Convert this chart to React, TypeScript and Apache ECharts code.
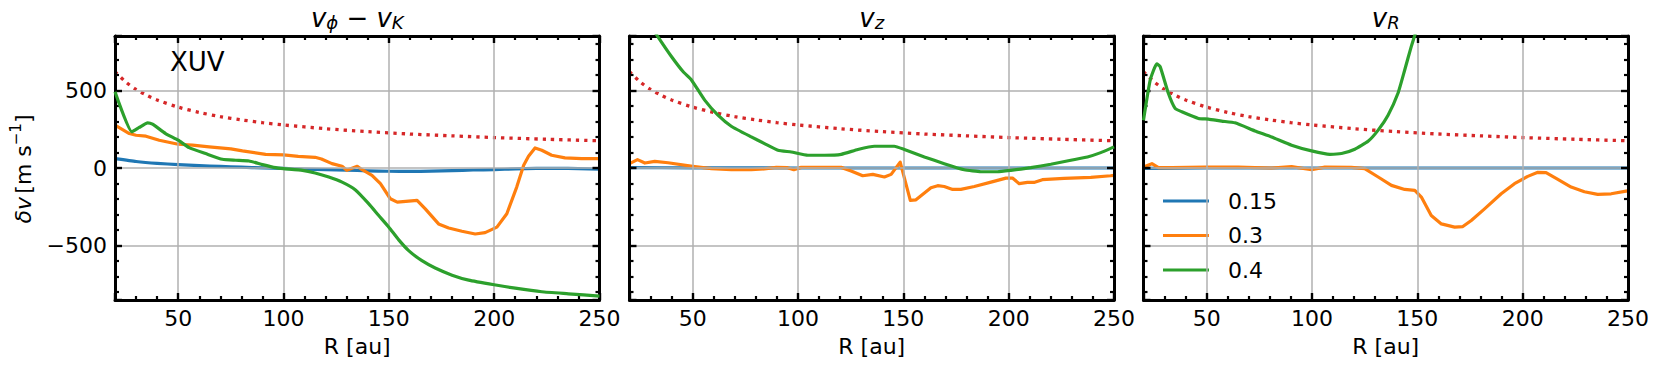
import React, { useEffect, useRef } from "react";
import * as echarts from "echarts";

// ---------- data ----------
const X_MIN = 20;
const X_MAX = 250;
const Y_MIN = -850;
const Y_MAX = 850;

const LEGEND_LABELS = ["0.15", "0.3", "0.4"];
const X_LABEL = "R [au]";

// red dotted reference curve (same in all panels)
const R_KEP = [20, 25, 30, 35, 40, 50, 60, 70, 80, 90, 100, 120, 140, 160, 180, 200, 225, 250];
const V_KEP = [620, 555, 506, 469, 438, 392, 358, 331, 310, 292, 277, 253, 234, 219, 207, 196, 185, 175];

// panel 1: v_phi - v_K
const R_PHI_015 = [20, 30, 40, 50, 60, 70, 80, 90, 100, 110, 120, 130, 140, 150, 160, 170, 180, 190, 200, 210, 220, 230, 240, 250];
const V_PHI_015 = [60, 42, 30, 22, 15, 10, 5, 1, -3, -7, -10, -14, -18, -21, -22, -20, -17, -13, -10, -6, -3, -2, -4, -8];
const R_PHI_03 = [20, 26.8, 30, 34.7, 41, 50, 56.8, 64.7, 75, 80.5, 91.5, 100, 107, 115, 118, 123, 127.8, 130, 135, 137.3, 142, 146, 150.7, 154, 159.4, 163.4, 167.3, 173.6, 178.4, 184.7, 191, 195.7, 201.3, 206, 210.7, 214, 216.3, 219.4, 222.6, 227.3, 233.6, 241.5, 250];
const V_PHI_03 = [276, 222, 211, 205, 179, 153, 147, 136, 123, 110, 88, 84, 75, 69, 58, 28, 11, -15, 11, -11, -47, -101, -198, -220, -213, -209, -263, -360, -386, -407, -425, -416, -381, -295, -123, 17, 75, 129, 114, 82, 65, 60, 60];
const R_PHI_04 = [20, 28, 31.5, 35.5, 37.8, 44, 50, 55.2, 63, 71, 77.3, 83.6, 90, 96.3, 100, 109, 115, 121.5, 127.8, 134, 140.5, 145.2, 150, 154.7, 159.4, 165.7, 172, 180, 187.9, 200, 210, 222.6, 235.2, 250];
const V_PHI_04 = [491, 233, 261, 291, 282, 222, 179, 131, 93, 56, 50, 45, 22, 2, -4, -15, -32, -58, -91, -140, -231, -306, -381, -463, -532, -597, -644, -690, -722, -752, -774, -797, -810, -825];

// panel 2: v_z
const R_Z_015 = [20, 50, 100, 150, 200, 250];
const V_Z_015 = [2, 1, 0, 0, 0, 0];
const R_Z_03 = [20, 23.8, 27.3, 32, 38.3, 50, 58.9, 68.3, 77.8, 84, 89.7, 95, 98, 101.5, 112.6, 120.5, 125.2, 130.7, 135.5, 141, 144.2, 148.5, 153.3, 156, 163.1, 166.3, 169.4, 173.4, 177.3, 183.7, 191.6, 198.7, 201.8, 205, 208.9, 212, 216, 226.3, 239, 248.4, 250];
const V_Z_03 = [28, 54, 32, 43, 34, 11, -4, -11, -11, -6, 4, 2, -11, 4, 4, 4, -19, -50, -41, -58, -41, 38, -209, -205, -127, -114, -119, -138, -138, -119, -91, -65, -65, -101, -93, -93, -75, -67, -60, -50, -47];
const R_Z_04 = [20, 25, 30, 33.6, 39.9, 45.4, 49.4, 55.7, 62, 68.3, 77.8, 84.1, 90.5, 96.8, 104.7, 112.6, 120.5, 128.4, 136.3, 145.7, 150.5, 160, 169.4, 178.9, 186.8, 194.7, 201, 210.5, 220, 229.5, 237.4, 243.7, 249.2, 250];
const V_Z_04 = [1100, 1020, 920, 843, 718, 621, 567, 437, 340, 269, 200, 157, 114, 103, 82, 82, 88, 119, 140, 140, 119, 71, 28, -11, -24, -24, -15, 2, 24, 50, 71, 99, 131, 136];

// panel 3: v_R
const R_R_015 = [20, 50, 100, 150, 200, 250];
const V_R_015 = [-2, 0, 0, 0, 0, 0];
const R_R_03 = [20, 24, 27.1, 33.4, 49.2, 65, 80.8, 90.3, 99.8, 106.1, 118.7, 125, 131.4, 137.7, 144, 148.8, 151.9, 156.6, 161.4, 167.7, 171.6, 175.6, 181.9, 189.8, 196.1, 202.4, 207.2, 211.1, 216.7, 223, 229.3, 235.6, 242, 249.1, 250];
const V_R_03 = [6, 28, 2, 2, 6, 6, 0, 9, -11, 6, 4, -4, -58, -112, -138, -144, -187, -306, -360, -381, -377, -338, -263, -166, -101, -54, -28, -30, -73, -123, -153, -170, -166, -149, -147];
const R_R_04 = [20, 23.2, 26.3, 27.9, 31.8, 35, 38.2, 46.1, 50.8, 57.1, 63.4, 72.9, 80.8, 90.3, 99.8, 108.5, 114, 120.3, 126.6, 131.4, 136.1, 140.8, 144, 147.1, 148.7, 152];
const V_R_04 = [308, 567, 670, 653, 481, 384, 362, 319, 315, 302, 291, 239, 200, 147, 110, 88, 93, 121, 172, 244, 340, 481, 631, 782, 851, 1000];

// ---------- styling ----------
const COLORS = ["#1f77b4", "#ff7f0e", "#2ca02c"];
const SMOOTH = [0.15, 0, 0.15];
const RED = "#d62728";
const FONT = "DejaVu Sans";
const GRID_LEFTS = [115, 629.5, 1143.5];
const GRID_W = 484.5;
const GRID_TOP = 36;
const GRID_H = 264;

const zip = (r: number[], v: number[]) => r.map((x, i) => [x, v[i]]);

const PANELS = [
  [zip(R_PHI_015, V_PHI_015), zip(R_PHI_03, V_PHI_03), zip(R_PHI_04, V_PHI_04)],
  [zip(R_Z_015, V_Z_015), zip(R_Z_03, V_Z_03), zip(R_Z_04, V_Z_04)],
  [zip(R_R_015, V_R_015), zip(R_R_03, V_R_03), zip(R_R_04, V_R_04)],
];

const fmtNum = (v: number) => (v < 0 ? "\u2212" + Math.abs(v) : String(v));

function buildOption() {
  const grid: any[] = [];
  const xAxis: any[] = [];
  const yAxis: any[] = [];
  const series: any[] = [];

  const tickBlack = { color: "#000", width: 2.4 };
  for (let p = 0; p < 3; p++) {
    grid.push({ left: GRID_LEFTS[p], top: GRID_TOP, width: GRID_W, height: GRID_H, containLabel: false });
    for (const pos of ["bottom", "top"]) {
      const bottom = pos === "bottom";
      xAxis.push({
        type: "value",
        gridIndex: p,
        position: pos,
        min: X_MIN,
        max: X_MAX,
        splitNumber: 5,
        axisLine: { show: true, onZero: false, lineStyle: { color: "#000", width: 3 } },
        axisTick: { show: true, inside: true, length: 7, lineStyle: tickBlack },
        minorTick: { show: true, splitNumber: 5, length: 4, lineStyle: { color: "#000", width: 2.2 } },
        axisLabel: {
          show: bottom,
          margin: 7,
          fontSize: 22,
          fontFamily: FONT,
          color: "#000",
          formatter: (v: number) => (v % 50 === 0 ? fmtNum(v) : ""),
        },
        splitLine: { show: bottom, lineStyle: { color: "#b0b0b0", width: 1.5 } },
        z: 5,
      });
    }
    for (const pos of ["left", "right"]) {
      const left = pos === "left";
      yAxis.push({
        type: "value",
        gridIndex: p,
        position: pos,
        min: Y_MIN,
        max: Y_MAX,
        splitNumber: 4,
        axisLine: { show: true, onZero: false, lineStyle: { color: "#000", width: 3 } },
        axisTick: { show: true, inside: true, length: 7, lineStyle: tickBlack },
        minorTick: { show: true, splitNumber: 5, length: 4, lineStyle: { color: "#000", width: 2.2 } },
        axisLabel: {
          show: left && p === 0,
          margin: 8,
          fontSize: 22,
          fontFamily: FONT,
          color: "#000",
          formatter: (v: number) => (v % 500 === 0 ? fmtNum(v) : ""),
        },
        splitLine: { show: left, lineStyle: { color: "#b0b0b0", width: 1.5 } },
        z: 5,
      });
    }

    series.push({
      type: "line",
      name: "Kepler",
      xAxisIndex: 2 * p,
      yAxisIndex: 2 * p,
      data: zip(R_KEP, V_KEP),
      symbol: "none",
      smooth: 0.3,
      clip: true,
      lineStyle: { color: RED, width: 3.3, type: [3.3, 5], cap: "butt" },
      z: 2,
    });
    PANELS[p].forEach((data, k) => {
      series.push({
        type: "line",
        name: LEGEND_LABELS[k],
        xAxisIndex: 2 * p,
        yAxisIndex: 2 * p,
        data,
        symbol: "none",
        showSymbol: false,
        smooth: SMOOTH[k],
        clip: true,
        color: COLORS[k],
        lineStyle: { color: COLORS[k], width: 3.2, join: "round" },
        z: 3 + k,
      });
    });
  }

  const titleRich = {
    v: { fontSize: 26, fontStyle: "italic", fontFamily: FONT, fill: "#000", verticalAlign: "top", lineHeight: 26 },
    m: { fontSize: 26, fontFamily: FONT, fill: "#000", verticalAlign: "top", lineHeight: 26 },
    s: { fontSize: 18, fontStyle: "italic", fontFamily: FONT, fill: "#000", verticalAlign: "bottom", lineHeight: 18, padding: [11, 0, 0, 0] },
  };
  const titleTexts = ["{v|v}{s|\u03d5}{m| \u2212 }{v|v}{s|K}", "{v|v}{s|z}", "{v|v}{s|R}"];

  const graphic: any[] = [];
  for (let p = 0; p < 3; p++) {
    const cx = GRID_LEFTS[p] + GRID_W / 2;
    graphic.push({
      type: "text",
      x: cx,
      y: 18,
      style: { text: titleTexts[p], rich: titleRich, align: "center", verticalAlign: "middle" },
    });
    graphic.push({
      type: "text",
      x: cx,
      y: 346,
      style: { text: X_LABEL, fontSize: 22, fontFamily: FONT, fill: "#000", align: "center", verticalAlign: "middle" },
    });
  }
  graphic.push({
    type: "text",
    x: 170,
    y: 62,
    z: 10,
    style: { text: "XUV", fontSize: 26, fontFamily: FONT, fill: "#000", align: "left", verticalAlign: "middle" },
  });
  graphic.push({
    type: "text",
    x: 21,
    y: 169,
    rotation: Math.PI / 2,
    style: {
      text: "{i|\u03b4v} {n|[m s}{p|\u22121}{n|]}",
      align: "center",
      verticalAlign: "middle",
      rich: {
        i: { fontSize: 22, fontStyle: "italic", fontFamily: FONT, fill: "#000", verticalAlign: "bottom", lineHeight: 26 },
        n: { fontSize: 22, fontFamily: FONT, fill: "#000", verticalAlign: "bottom", lineHeight: 26 },
        p: { fontSize: 15, fontFamily: FONT, fill: "#000", verticalAlign: "top", lineHeight: 15 },
      },
    },
  });

  return {
    animation: false,
    backgroundColor: "#fff",
    textStyle: { fontFamily: FONT },
    grid,
    xAxis,
    yAxis,
    series,
    legend: {
      data: LEGEND_LABELS.map((name) => ({ name, icon: "rect" })),
      orient: "vertical",
      left: 1163,
      top: 190,
      itemWidth: 46,
      itemHeight: 3.2,
      itemGap: 12.5,
      padding: 0,
      textStyle: { fontSize: 22, fontFamily: FONT, color: "#000", padding: [0, 0, 0, 14] },
      selectedMode: false,
    },
    graphic,
  };
}

export default function App() {
  const ref = useRef<HTMLDivElement>(null);
  useEffect(() => {
    if (!ref.current) return;
    const chart = echarts.init(ref.current, null, { renderer: "svg" });
    chart.setOption(buildOption() as any);
    return () => chart.dispose();
  }, []);
  return (
    <div
      ref={ref}
      style={{ position: "fixed", left: 0, top: 0, width: 1661, height: 366, background: "#fff" }}
    />
  );
}
